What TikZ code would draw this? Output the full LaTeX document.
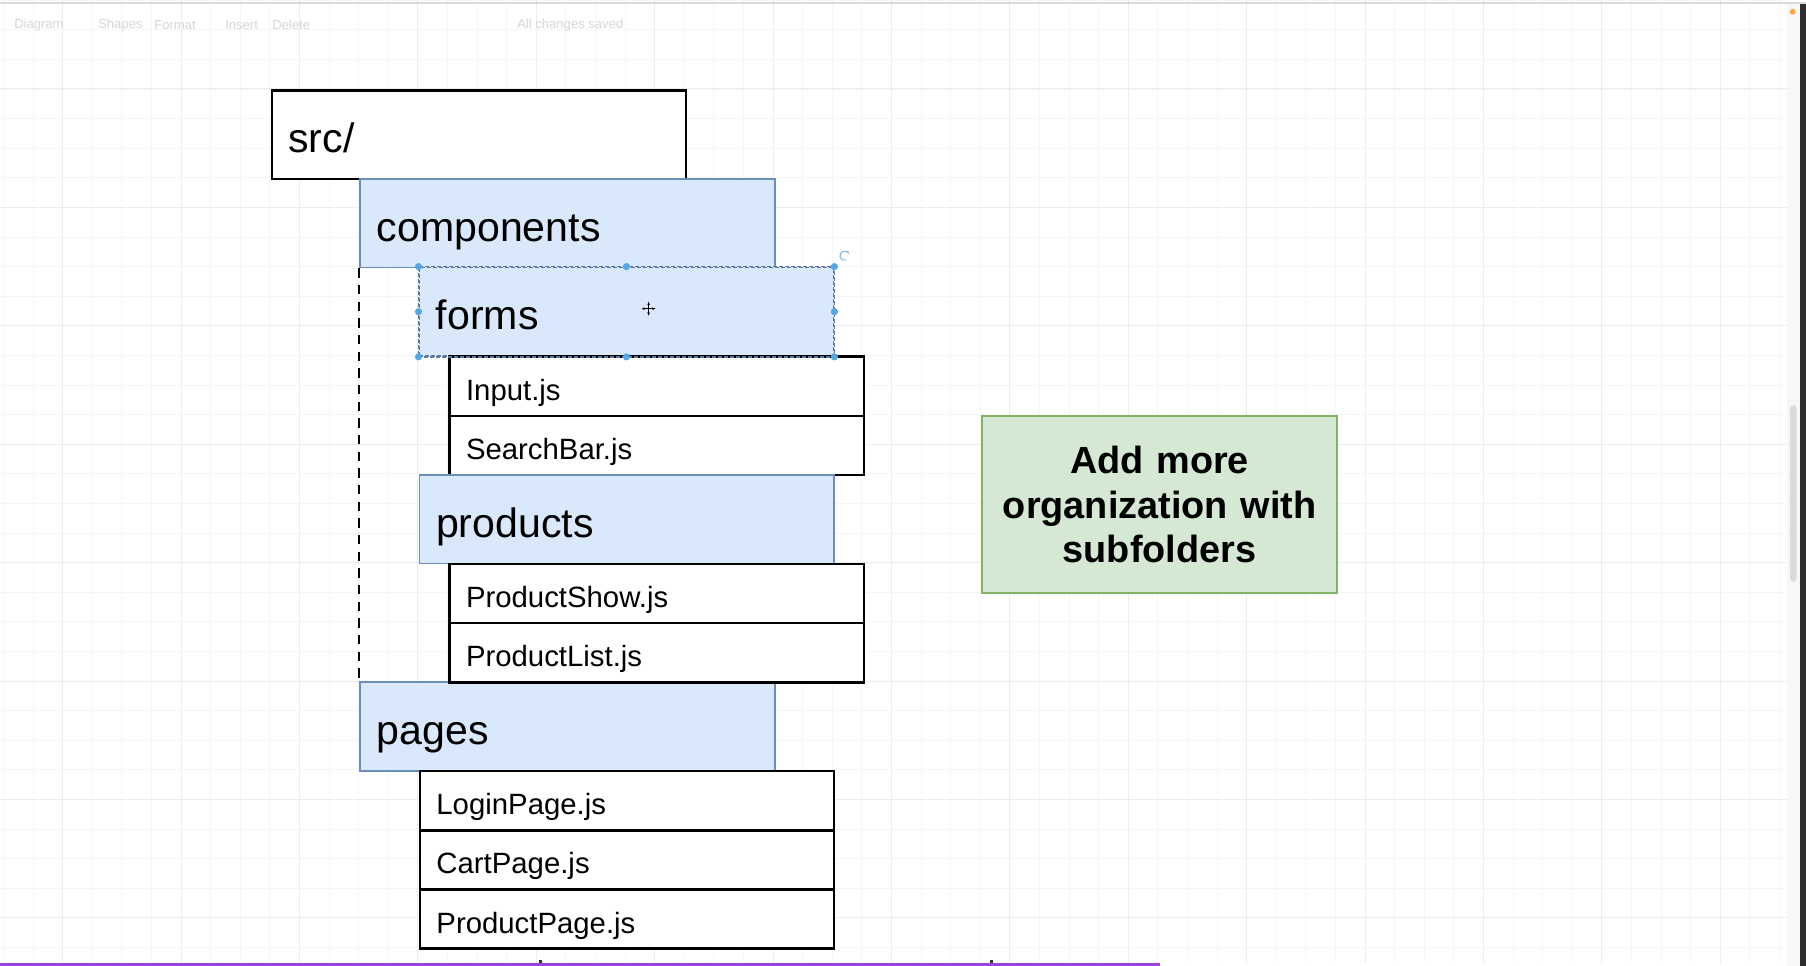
\documentclass[tikz,border=0pt]{standalone}
\usepackage{fontspec}
\setmainfont{Liberation Sans}
\usetikzlibrary{arrows.meta}

\definecolor{folderfill}{RGB}{218,232,252}
\definecolor{folderline}{RGB}{108,142,191}
\definecolor{notefill}{RGB}{213,232,212}
\definecolor{noteline}{RGB}{130,179,102}
\definecolor{gridminor}{RGB}{246,246,246}
\definecolor{gridmajor}{RGB}{237,237,237}
\definecolor{handleblue}{RGB}{84,168,230}
\definecolor{barpurple}{RGB}{155,66,216}

\tikzset{
  folder/.style={draw=folderline, fill=folderfill, line width=1.4pt, anchor=north west,
    inner xsep=12.5pt, inner ysep=0pt, text width=285.8pt, align=left,
    minimum height=66.6pt, text height=30pt, text depth=3pt,
    font=\fontsize{30.8}{37}\selectfont},
  file/.style={draw=black, fill=white, line width=1.9pt, anchor=north west,
    inner xsep=12.5pt, inner ysep=0pt, text width=285.8pt, align=left,
    minimum height=44.4pt, text height=24pt, text depth=3pt,
    font=\fontsize{22}{26}\selectfont},
  rootdir/.style={file, minimum height=66.6pt, text height=30pt,
    font=\fontsize{30.8}{37}\selectfont},
  selected/.style={draw=folderline!85!black, dash pattern=on 3pt off 1.5pt, line width=1.1pt},
  note/.style={draw=noteline, fill=notefill, line width=1.6pt, anchor=north west,
    inner sep=0pt, text width=266.4pt, align=center, minimum height=133.2pt,
    font=\bfseries\fontsize{28.4}{33.2}\selectfont},
  toolbar/.style={anchor=west, inner sep=0pt, text=black!16, font=\fontsize{9.8}{11}\selectfont},
  guide/.style={black, line width=1.7pt, dash pattern=on 7pt off 5.5pt}
}

\begin{document}
\begin{tikzpicture}[x=0.75pt,y=0.75pt,yscale=-1,xscale=1]
\useasboundingbox (0,0) rectangle (1806,966);
\fill[white] (0,0) rectangle (1806,966);

%Grid
\foreach \gx in {3.5,33.1,...,1787} \draw[gridminor, line width=0.7pt] (\gx,0) -- (\gx,963);
\foreach \gy in {0.2,29.8,...,963} \draw[gridminor, line width=0.7pt] (0,\gy) -- (1787,\gy);
\foreach \gx in {62.7,181.1,...,1787} \draw[gridmajor, line width=0.75pt] (\gx,0) -- (\gx,963);
\foreach \gy in {89,207.4,...,963} \draw[gridmajor, line width=0.75pt] (0,\gy) -- (1787,\gy);
\draw[black!15, line width=1.2pt] (0,3.3) -- (1806,3.3);

% Toolbar
\node[toolbar] (tbdiagram) at (14,25) {Diagram};
\node[toolbar] (tbshapes) at (98,25) {Shapes};
\node[toolbar] (tbformat) at (154,25) {Format};
\node[toolbar] (tbinsert) at (225,25) {Insert};
\node[toolbar] (tbdelete) at (272,25) {Delete};
\node[toolbar] (tbsaved) at (517,25) {All changes saved};

%Shape: Rectangle
\node[rootdir] (src) at (270.5,89) {src/};
\node[folder] (components) at (359.3,177.8) {components};
%Straight Lines
\draw[guide] (components.south west) -- (359.3,681);
\node[folder, selected] (forms) at (418.5,266.6) {forms};
\node[file] (input) at (448.1,355.4) {Input.js};
\node[file] (searchbar) at (448.1,414.6) {SearchBar.js};
\node[folder] (products) at (418.5,473.8) {products};
\node[file] (productshow) at (448.1,562.6) {ProductShow.js};
\node[folder] (pages) at (359.3,681) {pages};
\node[file] (productlist) at (448.1,621.8) {ProductList.js};
\node[file] (loginpage) at (418.5,769.8) {LoginPage.js};
\node[file] (cartpage) at (418.5,829) {CartPage.js};
\node[file] (productpage) at (418.5,888.2) {ProductPage.js};

%Shape: Rectangle
\node[note] (tip) at (980.9,414.6) {Add more\\organization with\\subfolders};

% Selection handles
\draw[selected] (forms.north west) rectangle (forms.south east);
\foreach \a in {north west,north,north east,west,east,south west,south,south east}
  \fill[handleblue] (forms.\a) circle (3.6);
\draw[handleblue!80, line width=0.8pt, -{Stealth[length=2.4pt]}] (844.4,255.7) ++(70:4.5) arc (70:340:4.5);
\draw[line width=0.9pt, {Stealth[length=2.6pt]}-{Stealth[length=2.6pt]}] (641.6,308.7) -- (655.6,308.7);
\draw[line width=0.9pt, {Stealth[length=2.6pt]}-{Stealth[length=2.6pt]}] (648.6,301.7) -- (648.6,315.7);

% Scroll bar
\fill[black!3] (1787,4) rectangle (1800,966);
\fill[black!14, rounded corners=3pt] (1790,405) rectangle (1796.7,582);
\fill[black!82] (1800,4) rectangle (1806,966);
\fill[orange!70!white] (1792.7,11.7) circle (3);

% Bottom bar
\fill[barpurple] (0,963) rectangle (1160,966);
\fill[black!80] (538.5,959.5) rectangle (541.5,963);
\fill[black!80] (989.5,959.5) rectangle (992.5,963);

\end{tikzpicture}
\end{document}
